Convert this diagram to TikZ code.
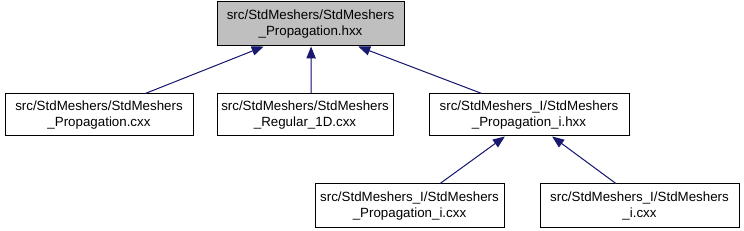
\documentclass[tikz,border=0pt]{standalone}
\usepackage{fontspec}
\setmainfont{Liberation Sans}
\usetikzlibrary{arrows.meta,calc}
\definecolor{edgeblue}{HTML}{191970}
\definecolor{topgray}{HTML}{BFBFBF}
\tikzset{
  filebox/.style={draw=black, line width=0.75pt, fill=white, inner sep=0pt, align=center, font=\fontsize{10}{12.5}\selectfont},
  curbox/.style={filebox, fill=topgray},
  dep/.style={draw=edgeblue, line width=0.75pt, -{Triangle[length=9pt,width=7pt]}, fill=edgeblue},
}
\begin{document}
\begin{tikzpicture}[x=0.75pt,y=-0.75pt]
\useasboundingbox[fill=white] (0,0) rectangle (744,231);
\node[curbox, minimum width=187*0.75pt, minimum height=44*0.75pt] (top) at (310.5,24) {src/StdMeshers/StdMeshers\\\_Propagation.hxx};
\node[filebox, minimum width=188*0.75pt, minimum height=42*0.75pt] (b1) at (99,115) {src/StdMeshers/StdMeshers\\\_Propagation.cxx};
\node[filebox, minimum width=176*0.75pt, minimum height=42*0.75pt] (b2) at (305,115) {src/StdMeshers/StdMeshers\\\_Regular\_1D.cxx};
\node[filebox, minimum width=200*0.75pt, minimum height=42*0.75pt] (b3) at (529,115) {src/StdMeshers\_I/StdMeshers\\\_Propagation\_i.hxx};
\node[filebox, minimum width=189*0.75pt, minimum height=44*0.75pt] (b4) at (409.5,206) {src/StdMeshers\_I/StdMeshers\\\_Propagation\_i.cxx};
\node[filebox, minimum width=199*0.75pt, minimum height=44*0.75pt] (b5) at (639.5,206) {src/StdMeshers\_I/StdMeshers\\\_i.cxx};
\draw[dep] ($(b1.north west)!0.745!(b1.north east)$) -- ($(top.south west)!0.251!(top.south east)$);
\draw[dep] ($(b2.north west)!0.534!(b2.north east)$) -- ($(top.south west)!0.503!(top.south east)$);
\draw[dep] ($(b3.north west)!0.265!(b3.north east)$) -- ($(top.south west)!0.754!(top.south east)$);
\draw[dep] ($(b4.north west)!0.661!(b4.north east)$) -- ($(b3.south west)!0.38!(b3.south east)$);
\draw[dep] ($(b5.north west)!0.382!(b5.north east)$) -- ($(b3.south west)!0.615!(b3.south east)$);
\end{tikzpicture}
\end{document}
